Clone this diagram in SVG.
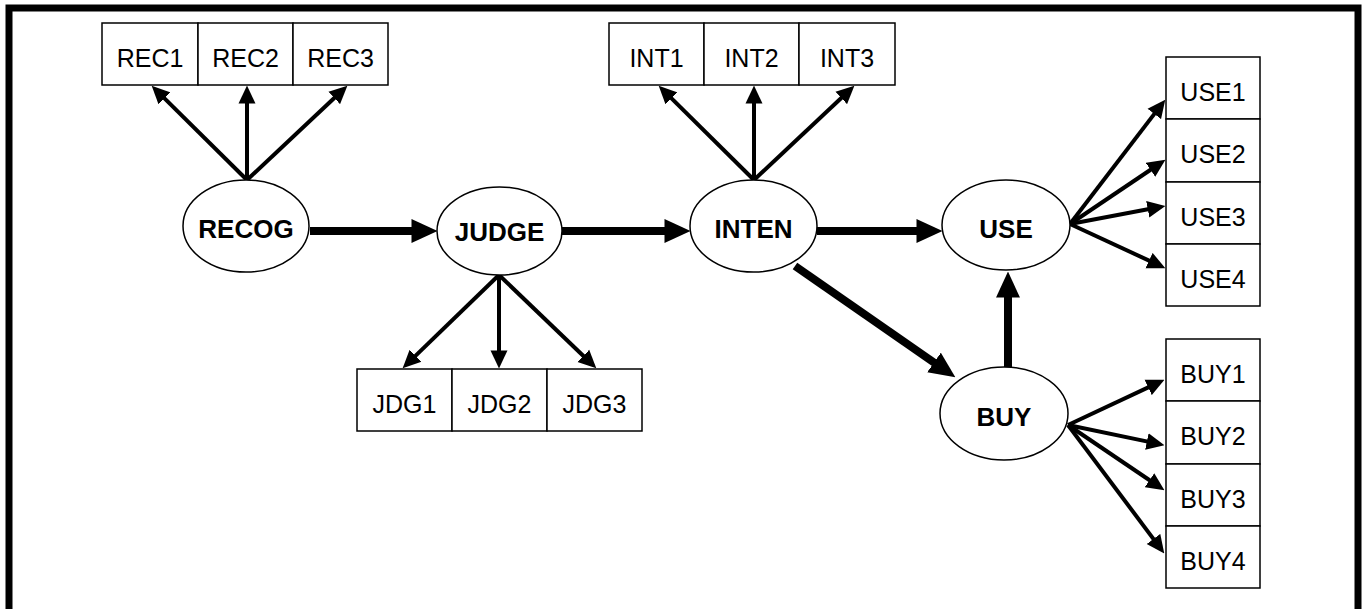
<svg xmlns="http://www.w3.org/2000/svg" width="1366" height="609" viewBox="0 0 1366 609">
<style>
.box{fill:#fff;stroke:#000;stroke-width:1.5}
.ell{fill:#fff;stroke:#000;stroke-width:1.5}
.bt{font-family:"Liberation Sans",Arial,sans-serif;font-size:25px;text-anchor:middle;dominant-baseline:central;fill:#000}
.et{font-family:"Liberation Sans",Arial,sans-serif;font-size:26px;font-weight:bold;text-anchor:middle;dominant-baseline:central;fill:#000}
.thin{stroke:#000;stroke-width:4;fill:none;marker-end:url(#ah)}
.thick{stroke:#000;stroke-width:8;fill:none;marker-end:url(#AH)}
</style>
<defs>
<marker id="ah" markerUnits="userSpaceOnUse" markerWidth="18" markerHeight="18" refX="9" refY="8" orient="auto" viewBox="0 0 17 16">
<path d="M0,0 L17,8 L0,16 z" fill="#000"/>
</marker>
<marker id="AH" markerUnits="userSpaceOnUse" markerWidth="26" markerHeight="24" refX="13" refY="11.5" orient="auto" viewBox="0 0 25 23">
<path d="M0,0 L25,11.5 L0,23 z" fill="#000"/>
</marker>
</defs>
<rect x="0" y="0" width="1366" height="609" fill="#fff"/>
<rect id="frame" x="9" y="8" width="1349" height="640" fill="none" stroke="#000" stroke-width="7"/>

<g id="connectors">
<line class="thin" x1="247" y1="180" x2="157.7" y2="91.6"/>
<line class="thin" x1="247" y1="180" x2="247" y2="94"/>
<line class="thin" x1="247" y1="180" x2="341.2" y2="91.5"/>
<line class="thin" x1="499" y1="275" x2="408.7" y2="362.4"/>
<line class="thin" x1="499" y1="275" x2="499" y2="360"/>
<line class="thin" x1="499" y1="275" x2="590.2" y2="362.5"/>
<line class="thin" x1="754" y1="180" x2="664.7" y2="91.6"/>
<line class="thin" x1="754" y1="180" x2="754" y2="94"/>
<line class="thin" x1="754" y1="180" x2="848.2" y2="91.5"/>
<line class="thin" x1="1070" y1="224" x2="1160.1" y2="106.4"/>
<line class="thin" x1="1070" y1="224" x2="1158.4" y2="164.5"/>
<line class="thin" x1="1070" y1="224" x2="1157.1" y2="207.5"/>
<line class="thin" x1="1070" y1="224" x2="1157.7" y2="264.6"/>
<line class="thin" x1="1068" y1="425" x2="1156.8" y2="383.4"/>
<line class="thin" x1="1068" y1="425" x2="1156.2" y2="443.4"/>
<line class="thin" x1="1068" y1="425" x2="1157.4" y2="485.5"/>
<line class="thin" x1="1068" y1="425" x2="1159.2" y2="546.6"/>
<line class="thick" x1="310" y1="231" x2="425" y2="231"/>
<line class="thick" x1="562" y1="231" x2="678" y2="231"/>
<line class="thick" x1="817" y1="231" x2="930" y2="231"/>
<line class="thick" x1="795" y1="266" x2="945.1" y2="370.2"/>
<line class="thick" x1="1008" y1="367" x2="1008" y2="284"/>
</g>

<g id="RECOG"><ellipse class="ell" cx="246" cy="226" rx="63" ry="46"/><text class="et" x="246" y="229">RECOG</text></g>
<g id="JUDGE"><ellipse class="ell" cx="499.5" cy="231" rx="62.5" ry="44"/><text class="et" x="499.5" y="232">JUDGE</text></g>
<g id="INTEN"><ellipse class="ell" cx="753.5" cy="226" rx="63.5" ry="46"/><text class="et" x="753.5" y="229">INTEN</text></g>
<g id="USE"><ellipse class="ell" cx="1006" cy="225" rx="64" ry="45"/><text class="et" x="1006" y="229">USE</text></g>
<g id="BUY"><ellipse class="ell" cx="1004" cy="413.5" rx="64" ry="46.5"/><text class="et" x="1004" y="417">BUY</text></g>

<g id="REC1"><rect class="box" x="102" y="23" width="96" height="62"/><text class="bt" x="150" y="57.5">REC1</text></g>
<g id="REC2"><rect class="box" x="198" y="23" width="95" height="62"/><text class="bt" x="245.5" y="57.5">REC2</text></g>
<g id="REC3"><rect class="box" x="293" y="23" width="95" height="62"/><text class="bt" x="340.5" y="57.5">REC3</text></g>

<g id="JDG1"><rect class="box" x="357" y="369" width="95" height="62"/><text class="bt" x="404.5" y="403.5">JDG1</text></g>
<g id="JDG2"><rect class="box" x="452" y="369" width="95" height="62"/><text class="bt" x="499.5" y="403.5">JDG2</text></g>
<g id="JDG3"><rect class="box" x="547" y="369" width="95" height="62"/><text class="bt" x="594.5" y="403.5">JDG3</text></g>

<g id="INT1"><rect class="box" x="609" y="23" width="95" height="62"/><text class="bt" x="656.5" y="57.5">INT1</text></g>
<g id="INT2"><rect class="box" x="704" y="23" width="95" height="62"/><text class="bt" x="751.5" y="57.5">INT2</text></g>
<g id="INT3"><rect class="box" x="799" y="23" width="96" height="62"/><text class="bt" x="847" y="57.5">INT3</text></g>

<g id="USE1"><rect class="box" x="1166" y="57" width="94" height="62"/><text class="bt" x="1213" y="92">USE1</text></g>
<g id="USE2"><rect class="box" x="1166" y="119" width="94" height="63"/><text class="bt" x="1213" y="154">USE2</text></g>
<g id="USE3"><rect class="box" x="1166" y="182" width="94" height="62"/><text class="bt" x="1213" y="217">USE3</text></g>
<g id="USE4"><rect class="box" x="1166" y="244" width="94" height="62"/><text class="bt" x="1213" y="279">USE4</text></g>

<g id="BUY1"><rect class="box" x="1166" y="339" width="94" height="62"/><text class="bt" x="1213" y="374">BUY1</text></g>
<g id="BUY2"><rect class="box" x="1166" y="401" width="94" height="63"/><text class="bt" x="1213" y="436">BUY2</text></g>
<g id="BUY3"><rect class="box" x="1166" y="464" width="94" height="62"/><text class="bt" x="1213" y="499">BUY3</text></g>
<g id="BUY4"><rect class="box" x="1166" y="526" width="94" height="62"/><text class="bt" x="1213" y="561">BUY4</text></g>
</svg>
